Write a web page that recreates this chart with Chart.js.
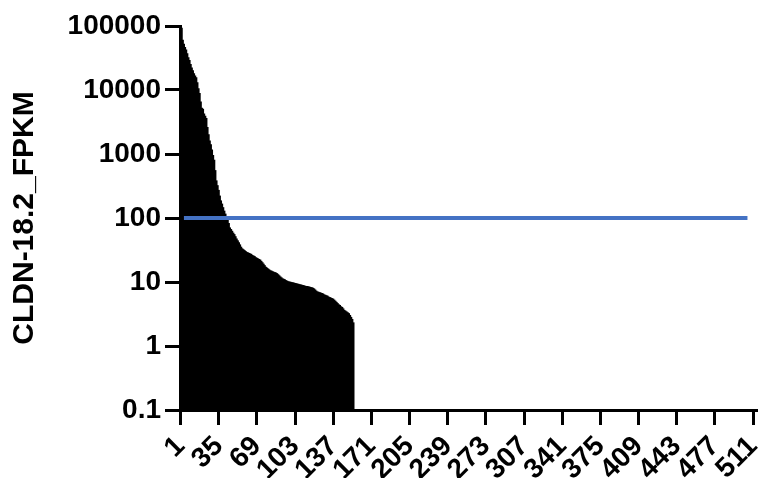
<!DOCTYPE html>
<html lang="en">
<head>
    <meta charset="UTF-8">
    <title>CLDN-18.2 FPKM</title>
    <style>
        html, body {
            margin: 0;
            padding: 0;
            background: #fff;
        }
        #chartContainer {
            position: relative;
            width: 759px;
            height: 478px;
        }
    </style>
</head>
<body>
    <div id="chartContainer">
        <canvas id="fpkmChart"></canvas>
    </div>

    <script src="https://cdn.jsdelivr.net/npm/chart.js"></script>
    <script>
        // number of samples on the x axis (ranked by expression)
        const sampleCount = 514;

        // FPKM values, sorted high to low
        const fpkmValues = [
            100000, 92000, 60000, 52000, 46000, 42000, 37000, 32000, 29000, 25000,
            22000, 20000, 18000, 16500, 15500, 13000, 10500, 8800, 6500, 5200,
            5000, 4200, 3900, 3600, 2600, 2000, 1600, 1400, 1150, 950,
            800, 550, 380, 320, 270, 220, 185, 165, 145, 128,
            115, 105, 95, 82, 70, 66, 62, 58, 55, 51,
            47, 44, 41, 38, 35, 33, 32, 31, 30, 29,
            28.5, 28, 27.5, 27, 26, 25.5, 25, 24, 23.5, 23,
            22.5, 22, 21, 20, 19, 18, 17, 16.5, 16, 15.5,
            15, 14.8, 14.5, 14.2, 14, 13.8, 13.5, 13, 12.5, 12,
            11.6, 11.2, 11, 10.8, 10.5, 10.3, 10.1, 10, 9.9, 9.8,
            9.7, 9.6, 9.5, 9.4, 9.3, 9.2, 9.1, 9.0, 8.9, 8.8,
            8.7, 8.6, 8.5, 8.5, 8.4, 8.3, 8.2, 8.1, 8.0, 7.8,
            7.5, 7.2, 7.0, 6.9, 6.8, 6.7, 6.6, 6.5, 6.3, 6.2,
            6.1, 6.0, 5.8, 5.7, 5.6, 5.5, 5.4, 5.2, 5.0, 4.8,
            4.6, 4.4, 4.3, 4.1, 4.0, 3.8, 3.6, 3.5, 3.4, 3.3,
            3.2, 3.0, 2.8, 2.6, 2.3
        ];

        const xTickLabels = ['1', '35', '69', '103', '137', '171', '205', '239',
            '273', '307', '341', '375', '409', '443', '477', '511'];
        const yTickValues = [0.1, 1, 10, 100, 1000, 10000, 100000];

        // cutoff line
        const cutoffValue = 100;
        const cutoffFrom = 4;
        const cutoffTo = 506;

        const categories = [];
        for (let i = 1; i <= sampleCount; i++) {
            categories.push(String(i));
        }
        const barData = categories.map((c, i) => i < fpkmValues.length ? fpkmValues[i] : null);
        const cutoffData = categories.map((c, i) =>
            (i + 1 >= cutoffFrom && i + 1 <= cutoffTo) ? cutoffValue : null);

        const fontFamily = "'Liberation Sans', Arial, Helvetica, sans-serif";

        const ctx = document.getElementById('fpkmChart').getContext('2d');
        const chart = new Chart(ctx, {
            type: 'bar',
            data: {
                labels: categories,
                datasets: [
                    {
                        type: 'line',
                        label: 'cutoff',
                        data: cutoffData,
                        borderColor: '#4472C4',
                        borderWidth: 4,
                        pointRadius: 0,
                        fill: false,
                        order: 0
                    },
                    {
                        label: 'CLDN-18.2',
                        data: barData,
                        backgroundColor: '#000',
                        borderWidth: 0,
                        barPercentage: 1,
                        categoryPercentage: 1,
                        inflateAmount: 0.5,
                        order: 1
                    }
                ]
            },
            options: {
                responsive: true,
                maintainAspectRatio: false,
                animation: false,
                layout: {
                    padding: { top: 26, right: 2, left: 0, bottom: 0 }
                },
                plugins: {
                    legend: { display: false },
                    tooltip: { enabled: false }
                },
                scales: {
                    x: {
                        offset: true,
                        border: { color: '#000', width: 3 },
                        grid: {
                            offset: false,
                            drawOnChartArea: false,
                            drawTicks: true,
                            tickLength: 15,
                            tickWidth: 3,
                            tickColor: '#000'
                        },
                        ticks: {
                            autoSkip: false,
                            maxRotation: 45,
                            minRotation: 45,
                            padding: 5,
                            color: '#000',
                            font: { family: fontFamily, size: 28, weight: 'bold' },
                            callback: function (value) {
                                const lab = this.getLabelForValue(value);
                                return xTickLabels.includes(lab) ? lab : null;
                            }
                        },
                        afterFit: axis => {
                            axis.height = 68;
                            axis.paddingLeft = 0;
                            axis.paddingRight = 0;
                        }
                    },
                    y: {
                        type: 'logarithmic',
                        min: 0.1,
                        max: 100000,
                        border: { color: '#000', width: 3 },
                        grid: {
                            drawOnChartArea: false,
                            drawTicks: true,
                            tickLength: 15,
                            tickWidth: 3,
                            tickColor: '#000'
                        },
                        afterBuildTicks: axis => {
                            axis.ticks = yTickValues.map(v => ({ value: v }));
                        },
                        afterFit: axis => {
                            axis.width = 180;
                        },
                        ticks: {
                            padding: 4,
                            color: '#000',
                            font: { family: fontFamily, size: 28, weight: 'bold' },
                            callback: value => String(value)
                        },
                        title: {
                            display: true,
                            text: 'CLDN-18.2_FPKM',
                            color: '#000',
                            padding: { top: 7, bottom: 0 },
                            font: { family: fontFamily, size: 30, weight: 'bold' }
                        }
                    }
                }
            }
        });
    </script>
</body>
</html>
